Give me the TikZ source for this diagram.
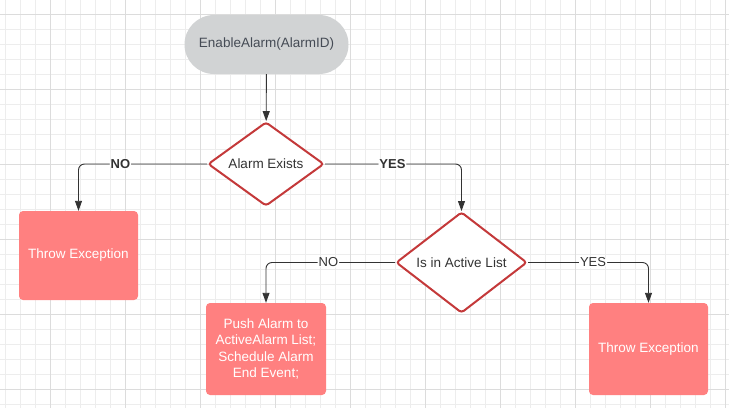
\documentclass[tikz,border=0pt]{standalone}
\usepackage{xcolor}
\usepackage{fontspec}
\setmainfont{Liberation Sans}
\usepackage{tikz}
\usetikzlibrary{shapes.geometric,arrows.meta}

\definecolor{gridminor}{HTML}{EDEDED}
\definecolor{gridmajor}{HTML}{DCDCDC}
\definecolor{pillgray}{HTML}{D1D3D4}
\definecolor{pilltext}{HTML}{454B55}
\definecolor{decred}{HTML}{C4393A}
\definecolor{boxred}{HTML}{FF8080}
\definecolor{linegray}{HTML}{333333}

\begin{document}
\begin{tikzpicture}[x=1pt,y=-1pt]
			\tikzstyle{start} = [fill=pillgray, text=pilltext, rounded corners=29.5pt, minimum width=164pt, minimum height=59pt, font=\fontsize{13.5}{16}\selectfont]
			\tikzstyle{decision} = [diamond, draw=decred, line width=2pt, rounded corners=3pt, fill=white, inner sep=0pt, text=black!80, font=\fontsize{13.5}{16}\selectfont]
			\tikzstyle{action} = [fill=boxred, rounded corners=4pt, text=white, align=center, font=\fontsize{13.5}{16.5}\selectfont]
			\tikzstyle{answer} = [fill=white, inner sep=1pt, text=linegray, font=\fontsize{13}{15}\selectfont]
			\tikzset{edge/.style = {draw=linegray, line width=0.9pt, rounded corners=6pt, -{Triangle[length=10pt,width=7pt]}}}
			
			\useasboundingbox (0,0) rectangle (729,408);
			\fill[white] (0,0) rectangle (729,408);
			\foreach \gx in {5,20,...,725} \draw[gridminor, line width=0.8pt] (\gx,0) -- (\gx,408);
			\foreach \gy in {14,29,...,404} \draw[gridminor, line width=0.8pt] (0,\gy) -- (729,\gy);
			\foreach \gx in {50,125,...,725} \draw[gridmajor, line width=1pt] (\gx,0) -- (\gx,408);
			\foreach \gy in {14,89,...,404} \draw[gridmajor, line width=1pt] (0,\gy) -- (729,\gy);
			
			\node[start](enable) at (266.5,44.5) {EnableAlarm(AlarmID)};
			\node[decision, minimum width=116pt, minimum height=84pt, aspect=1.38](exists) at (266,164) {Alarm Exists};
			\node[decision, minimum width=131pt, minimum height=101pt, aspect=1.3](active) at (461.5,262.5) {Is in Active List};
			
			\node[action, minimum width=119pt, minimum height=89pt](throw1) at (78.5,255.5) {Throw Exception};
			\node[action, minimum width=120pt, minimum height=92pt](push) at (266,349) {Push Alarm to\\ActiveAlarm List;\\Schedule Alarm\\End Event;};
			\node[action, minimum width=119pt, minimum height=92pt](throw2) at (648.5,349) {Throw Exception};
			
			\draw[edge](enable) to (exists);
			\draw[edge](exists.west) -| node[answer, pos=0.337, font=\bfseries\fontsize{13}{15}\selectfont](no1) {NO} (throw1.north);
			\draw[edge](exists.east) -| node[answer, pos=0.247, font=\bfseries\fontsize{13}{15}\selectfont](yes1) {YES} (active.north);
			\draw[edge](active.west) -| node[answer, pos=0.258](no2) {NO} (push.north);
			\draw[edge](active.east) -| node[answer, pos=0.27](yes2) {YES} (throw2.north);
			
			\end{tikzpicture}
\end{document}
